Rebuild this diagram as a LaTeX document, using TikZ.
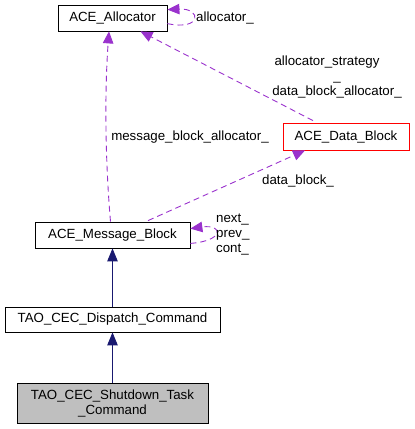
\documentclass[tikz,border=0pt]{standalone}
\usepackage{fontspec}
\setmainfont{Liberation Sans}
\usetikzlibrary{arrows.meta,calc}
\definecolor{dep}{HTML}{9A32CD}
\definecolor{inh}{HTML}{191970}
\definecolor{boxgray}{HTML}{BFBFBF}
\begin{document}
\begin{tikzpicture}[x=1pt,y=-1pt,
  every node/.style={font=\fontsize{13.3}{15}\selectfont, inner sep=0pt},
  cls/.style={draw=black, line width=0.8pt, rectangle, align=center},
  depline/.style={draw=dep, line width=0.9pt, dash pattern=on 6pt off 4pt, -{Triangle[length=12pt,width=10.5pt]}},
  inhline/.style={draw=inh, line width=0.9pt, -{Triangle[length=13pt,width=10.5pt]}, fill=inh},
  lbl/.style={text=black, align=center}]
\useasboundingbox (0,0) rectangle (415,429);
\node[cls, minimum width=109pt, minimum height=26pt] (alloc) at (112.5,18) {ACE\_Allocator};
\node[cls, draw=red, minimum width=126pt, minimum height=27pt] (datab) at (346,136.5) {ACE\_Data\_Block};
\node[cls, minimum width=155pt, minimum height=26pt] (msg) at (112.5,235) {ACE\_Message\_Block};
\node[cls, minimum width=215pt, minimum height=25pt] (disp) at (112.5,319.5) {TAO\_CEC\_Dispatch\_Command};
\node[cls, fill=boxgray, minimum width=191pt, minimum height=40pt] (shut) at (112.5,403) {TAO\_CEC\_Shutdown\_Task\\\_Command};

% self loop allocator
\draw[depline] ([yshift=-19pt]alloc.north east) .. controls (202,31) and (202,8) .. ([yshift=-5pt]alloc.north east);
\node[lbl] (lalloc) at (225,18) {allocator\_};

% data block -> allocator
\draw[depline] ([xshift=-33pt,yshift=2pt]datab.north) -- ([xshift=28pt]alloc.south);
\node[lbl] (lstrat) at (337,77) {allocator\_strategy\hspace*{20pt}\\\_\\data\_block\_allocator\_};

% message block -> allocator
\draw[depline] ([xshift=-2pt]msg.north) .. controls (106,170) and (104,100) .. ([xshift=-3.5pt]alloc.south);
\node[lbl] (lmba) at (190,137) {message\_block\_allocator\_};

% message block -> data block
\draw[depline] ([xshift=35.5pt,yshift=1pt]msg.north) -- ([xshift=-41pt]datab.south);
\node[lbl] (ldb) at (298,181) {data\_block\_};

% self loop message block
\draw[depline] ([yshift=5pt]msg.south east) .. controls (224,241) and (224,224) .. ([yshift=-7pt]msg.north east);
\node[lbl, align=left, anchor=west] (lnpc) at (216,235) {next\_\\prev\_\\cont\_};

% inheritance
\draw[inhline] (disp.north) -- (msg.south);
\draw[inhline] (shut.north) -- (disp.south);
\end{tikzpicture}
\end{document}
